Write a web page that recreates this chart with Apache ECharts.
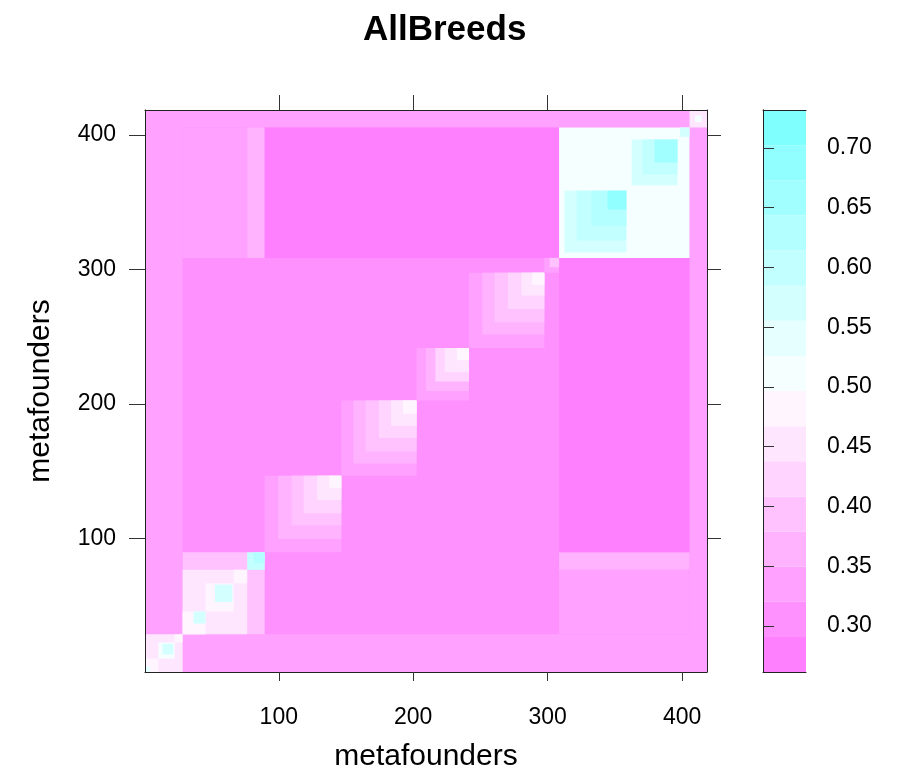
<!DOCTYPE html>
<html><head><meta charset="utf-8">
<script src="https://cdn.jsdelivr.net/npm/echarts@6/dist/echarts.min.js"></script>
<style>html,body{margin:0;padding:0;background:#fff}#chart{width:902px;height:772px}</style>
</head><body><div id="chart"></div>
<script>
// ---------------- data ----------------
const chartTitle = 'AllBreeds';
const axisName = 'metafounders';
const nFounders = 418;
const axisTicks = [100, 200, 300, 400];
const colorbarTicks = [0.30, 0.35, 0.40, 0.45, 0.50, 0.55, 0.60, 0.65, 0.70];
const colorRange = [0.2615, 0.7318];
const levelColors = ['#FF80FF','#FF91FF','#FFA1FF','#FFB3FF','#FFC2FF','#FFD4FF','#FFE6FF','#FFF5FF',
                     '#F5FFFF','#E6FFFF','#D4FFFF','#C2FFFF','#B3FFFF','#A1FFFF','#91FFFF','#80FFFF'];

// background squares on the diagonal: [firstIndex, lastIndex, value]
const backgroundSquares = [
  [1, 418, 0.34],
  [29, 405, 0.31]
];
// off-diagonal rectangles (matrix is symmetric, each is mirrored): [colFirst, colLast, rowFirst, rowLast, value]
const crossBlocks = [
  [29, 76, 309, 405, 0.34],
  [77, 89, 309, 405, 0.37],
  [90, 308, 309, 405, 0.28]
];
// within-breed squares on the diagonal, painted in order: [firstIndex, lastIndex, value]
const breedA = [[1, 28, 0.46], [1, 10, 0.49], [1, 4, 0.53], [11, 22, 0.50], [14, 21, 0.57], [23, 28, 0.49]];
const breedB = [[29, 89, 0.39], [29, 76, 0.45], [29, 45, 0.49], [37, 45, 0.56], [46, 66, 0.49], [53, 65, 0.56],
                [67, 76, 0.48], [77, 89, 0.59], [82, 89, 0.64]];
const breedC1 = [[90, 146, 0.335], [100, 146, 0.365], [110, 146, 0.395], [119, 146, 0.425], [129, 146, 0.455], [138, 146, 0.485]];
const breedC2 = [[147, 202, 0.335], [156, 202, 0.365], [165, 202, 0.395], [175, 202, 0.425], [184, 202, 0.455], [193, 202, 0.485]];
const breedC3 = [[203, 241, 0.335], [210, 241, 0.365], [217, 241, 0.42], [224, 241, 0.45], [233, 241, 0.48]];
const breedC4 = [[242, 297, 0.335], [252, 297, 0.365], [261, 297, 0.395], [271, 297, 0.425], [281, 297, 0.455], [289, 297, 0.485]];
const breedC5 = [[298, 308, 0.34], [302, 308, 0.39]];
const breedD = [[309, 405, 0.51], [313, 358, 0.56], [322, 358, 0.60], [333, 358, 0.64], [345, 358, 0.68],
                [363, 396, 0.56], [371, 396, 0.60], [380, 396, 0.65], [399, 405, 0.58]];
const breedE = [[406, 418, 0.46], [410, 414, 0.50]];

// ---------------- build ----------------
const FONT = 'Liberation Sans, Arial, Helvetica, sans-serif';
const cells = [];
backgroundSquares.forEach(s => cells.push([s[0], s[1], s[0], s[1], s[2]]));
crossBlocks.forEach(b => { cells.push([b[0], b[1], b[2], b[3], b[4]]); cells.push([b[2], b[3], b[0], b[1], b[4]]); });
[breedA, breedB, breedC1, breedC2, breedC3, breedC4, breedC5, breedD, breedE].forEach(g =>
  g.forEach(s => cells.push([s[0], s[1], s[0], s[1], s[2]])));

const nLevels = levelColors.length;
const step = (colorRange[1] - colorRange[0]) / nLevels;
const breaks = levelColors.map((c, i) => colorRange[0] + i * step).concat([colorRange[1]]);
const pieces = levelColors.map((c, i) => i === nLevels - 1
  ? { gte: breaks[i], lte: breaks[i + 1] + 1, color: c }
  : { gte: breaks[i], lt: breaks[i + 1], color: c });
const bands = levelColors.map((c, i) => [0, 1, breaks[i], breaks[i + 1], (breaks[i] + breaks[i + 1]) / 2]);

function rectRenderer(pad) {
  return function (params, api) {
    const p0 = api.coord([api.value(0) - pad, api.value(3) + pad]);
    const p1 = api.coord([api.value(1) + pad, api.value(2) - pad]);
    return { type: 'rect', shape: { x: p0[0], y: p0[1], width: p1[0] - p0[0], height: p1[1] - p0[1] },
             style: { fill: api.visual('color') } };
  };
}

const tickStyle = { color: '#333', width: 1 };
const lineStyle = { show: true, lineStyle: { color: '#222', width: 1 } };
const lo = 0.5, hi = nFounders + 0.5;

const chart = echarts.init(document.getElementById('chart'), null, { renderer: 'canvas' });
chart.setOption({
  animation: false,
  backgroundColor: '#fff',
  title: { text: chartTitle, left: 358, top: 8, textStyle: { fontSize: 35, fontWeight: 'bold', color: '#000', fontFamily: FONT } },
  grid: [
    { left: 145, top: 110, width: 562, height: 562, containLabel: false, outerBoundsMode: 'none' },
    { left: 763, top: 110, width: 43, height: 562, containLabel: false, outerBoundsMode: 'none' }
  ],
  xAxis: [
    { gridIndex: 0, type: 'value', min: lo, max: hi, position: 'bottom', z: 10, axisLine: lineStyle, splitLine: { show: false },
      axisTick: { show: true, customValues: axisTicks, length: 9, lineStyle: tickStyle },
      axisLabel: { customValues: axisTicks, margin: 34, fontSize: 23, color: '#000', fontFamily: FONT },
      name: axisName, nameLocation: 'middle', nameGap: 70, nameTextStyle: { fontSize: 30, color: '#000', fontFamily: FONT } },
    { gridIndex: 0, type: 'value', min: lo, max: hi, position: 'top', z: 10, axisLine: lineStyle, splitLine: { show: false },
      axisTick: { show: true, customValues: axisTicks, length: 15, lineStyle: tickStyle }, axisLabel: { show: false } },
    { gridIndex: 1, type: 'value', min: 0, max: 1, position: 'bottom', z: 10, axisLine: lineStyle, splitLine: { show: false },
      axisTick: { show: false }, axisLabel: { show: false } },
    { gridIndex: 1, type: 'value', min: 0, max: 1, position: 'top', z: 10, axisLine: lineStyle, splitLine: { show: false },
      axisTick: { show: false }, axisLabel: { show: false } }
  ],
  yAxis: [
    { gridIndex: 0, type: 'value', min: lo, max: hi, position: 'left', z: 10, axisLine: lineStyle, splitLine: { show: false },
      axisTick: { show: true, customValues: axisTicks, length: 16, lineStyle: tickStyle },
      axisLabel: { customValues: axisTicks, margin: 29, fontSize: 23, color: '#000', fontFamily: FONT },
      name: axisName, nameLocation: 'middle', nameGap: 89, nameTextStyle: { fontSize: 30, color: '#000', fontFamily: FONT } },
    { gridIndex: 0, type: 'value', min: lo, max: hi, position: 'right', z: 10, axisLine: lineStyle, splitLine: { show: false },
      axisTick: { show: true, customValues: axisTicks, length: 14, lineStyle: tickStyle }, axisLabel: { show: false } },
    { gridIndex: 1, type: 'value', min: colorRange[0], max: colorRange[1], position: 'left', z: 10, axisLine: lineStyle,
      splitLine: { show: false }, axisTick: { show: false }, axisLabel: { show: false } },
    { gridIndex: 1, type: 'value', min: colorRange[0], max: colorRange[1], position: 'right', z: 10, axisLine: lineStyle,
      splitLine: { show: false },
      axisTick: { show: true, customValues: colorbarTicks, length: 11, lineStyle: tickStyle },
      axisLabel: { customValues: colorbarTicks, margin: 21, fontSize: 23, color: '#000', fontFamily: FONT,
                   formatter: v => Number(v).toFixed(2) } }
  ],
  visualMap: [{ type: 'piecewise', show: false, dimension: 4, seriesIndex: [0, 1], pieces: pieces }],
  series: [
    { type: 'custom', xAxisIndex: 0, yAxisIndex: 0, renderItem: rectRenderer(0.5), clip: true,
      encode: { x: [0, 1], y: [2, 3] }, data: cells, silent: true },
    { type: 'custom', xAxisIndex: 2, yAxisIndex: 2, renderItem: rectRenderer(0), clip: true,
      encode: { x: [0, 1], y: [2, 3] }, data: bands, silent: true }
  ]
});
</script></body></html>
